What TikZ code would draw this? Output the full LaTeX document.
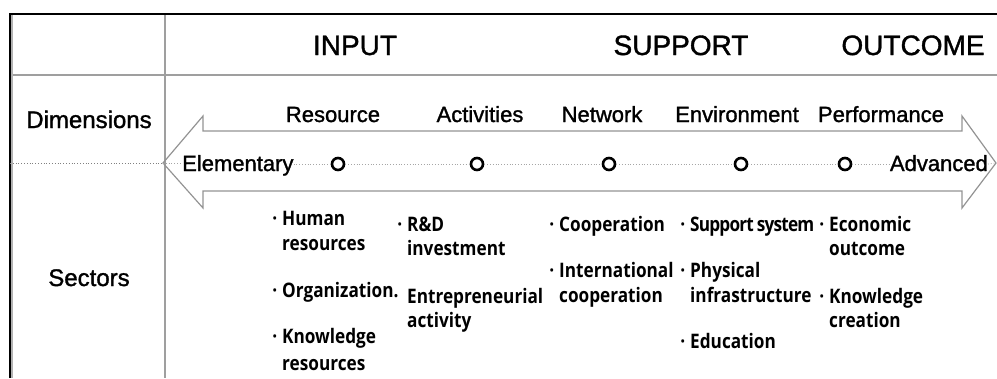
\documentclass[tikz,border=0pt]{standalone}
\usepackage{fontspec}
\setmainfont{Liberation Sans}[FakeBold=1.3]
\newfontfamily\itemfont{Open Sans}[FakeStretch=0.86]
\newcommand{\bul}{\llap{·\hspace{5pt}}}
\begin{document}
\begin{tikzpicture}[x=1pt,y=-1pt,
  hdr/.style={font=\fontsize{28}{30}\selectfont, anchor=base, inner sep=0},
  dimlab/.style={font=\fontsize{22}{24}\selectfont, anchor=base, inner sep=0},
  rowlab/.style={font=\fontsize{24}{26}\selectfont, anchor=base, inner sep=0},
  itm/.style={font=\itemfont\bfseries\fontsize{20}{22}\selectfont, anchor=base west, inner sep=0},
  ring/.style={circle, draw=black, line width=2.6pt, minimum size=12pt, inner sep=0},
  gridline/.style={draw=gray!75, line width=1.8pt},
  arrline/.style={draw=gray!85, line width=1.2pt, line join=miter},
  dotline/.style={draw=gray, dotted, line width=0.8pt}
]
\useasboundingbox (0,0) rectangle (997,378);
% table lines
\coordinate (tl) at (10,14);
\coordinate (tr) at (997,14);
\coordinate (bl) at (10,378);
\coordinate (hl) at (10,75);
\coordinate (hr) at (997,75);
\coordinate (vt) at (165,14);
\coordinate (vb) at (165,378);
\coordinate (dl) at (10,163);
\draw[gridline] (hl) -- (hr);
\draw[gridline] (vt) -- (vb);
\draw[gray!60, line width=1.5pt] (12,14) -- (12,378);
\draw[black, line width=1.2pt] (bl) -- (tl) -- (tr);
% double arrow
\coordinate (ltip) at (163,163);
\coordinate (rtip) at (996,163);
\draw[arrline] (ltip) -- (203,116) -- (203,131) -- (962,131) -- (962,116) -- (rtip)
  -- (962,208) -- (962,191) -- (203,191) -- (203,208) -- cycle;
% header texts
\node[hdr] (input) at (355,55) {INPUT};
\node[hdr] (support) at (681,55) {SUPPORT};
\node[hdr] (outcome) at (913,55) {OUTCOME};
% row labels
\node[rowlab] (dimensions) at (89,128) {Dimensions};
\node[rowlab] (sectors) at (89,286) {Sectors};
% dimension labels
\node[dimlab] (resource) at (333,122) {Resource};
\node[dimlab] (activities) at (480,122) {Activities};
\node[dimlab] (network) at (602,122) {Network};
\node[dimlab] (environment) at (737,122) {Environment};
\node[dimlab] (performance) at (881,122) {Performance};
% scale line
\node[dimlab, anchor=base west] (elem) at (182,171) {Elementary};
\node[dimlab, anchor=base east] (adv) at (988,171) {Advanced};
\node[ring] (c1) at (338,164) {};
\node[ring] (c2) at (477,164) {};
\node[ring] (c3) at (609,164) {};
\node[ring] (c4) at (741,164) {};
\node[ring] (c5) at (845,164) {};
\draw[dotline] (dl) -- (ltip);
\draw[dotline, gray!70] (ltip) -- (elem.west |- ltip);
\draw[dotline, gray!70] (elem.east |- c1) -- (c1);
\draw[dotline, gray!70] (c1) -- (c2);
\draw[dotline, gray!70] (c2) -- (c3);
\draw[dotline, gray!70] (c3) -- (c4);
\draw[dotline, gray!70] (c4) -- (c5);
\draw[dotline, gray!70] (c5) -- (adv.west |- c5);
\draw[dotline, gray!70] (adv.east |- c5) -- (rtip);
% sector items: column 1
\node[itm] (a1) at (282,225) {\bul Human};
\node[itm] (a1b) at (282,250) {resources};
\node[itm] (a2) at (282,297) {\bul Organization.};
\node[itm] (a3) at (282,343) {\bul Knowledge};
\node[itm] (a3b) at (282,370) {resources};
% column 2
\node[itm] (b1) at (407,231) {\bul R\&D};
\node[itm] (b1b) at (407,255) {investment};
\node[itm] (b2) at (407,303) {Entrepreneurial};
\node[itm] (b2b) at (407,327) {activity};
% column 3
\node[itm] (d1) at (559,231) {\bul Cooperation};
\node[itm] (d2) at (559,277) {\bul International};
\node[itm] (d2b) at (559,302) {cooperation};
% column 4
\node[itm] (e1) at (690,231) {\bul \addfontfeature{LetterSpace=-4}Support\hspace{3pt}system};
\node[itm] (e2) at (690,277) {\bul Physical};
\node[itm] (e2b) at (690,302) {infrastructure};
\node[itm] (e3) at (690,348) {\bul Education};
% column 5
\node[itm] (f1) at (829,231) {\bul Economic};
\node[itm] (f1b) at (829,255) {outcome};
\node[itm] (f2) at (829,303) {\bul Knowledge};
\node[itm] (f2b) at (829,327) {creation};
\end{tikzpicture}
\end{document}
